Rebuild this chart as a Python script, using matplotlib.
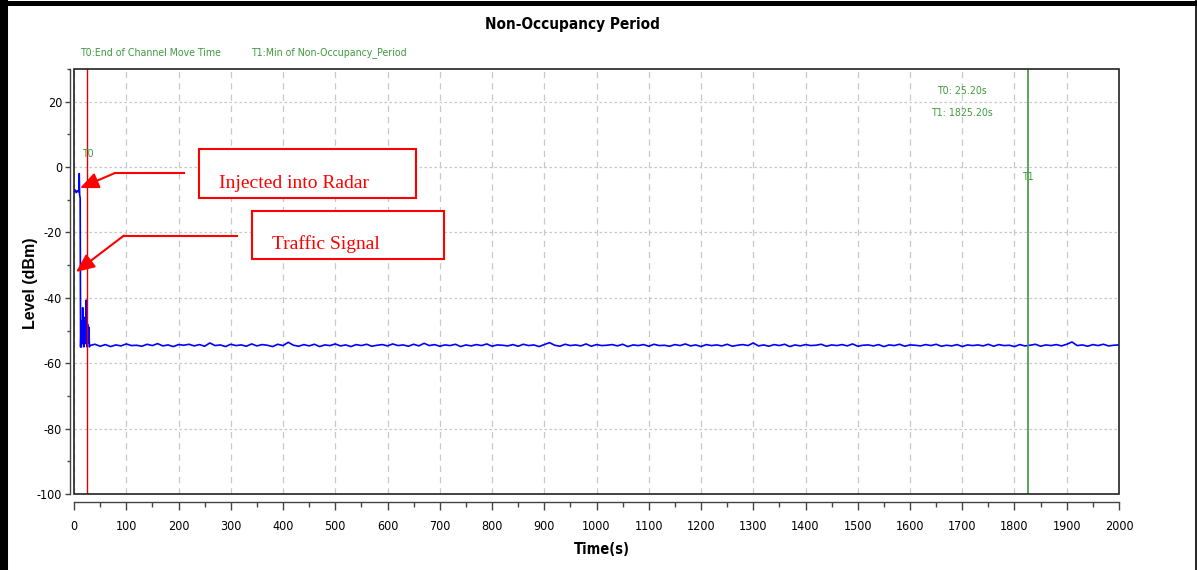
import numpy as np
import matplotlib
matplotlib.use("Agg")
import matplotlib.pyplot as plt
from matplotlib import font_manager as fm
from matplotlib.patches import Rectangle, FancyArrowPatch
from matplotlib.lines import Line2D
from matplotlib.ticker import MultipleLocator

# ---------------- data ----------------
t_start = [0, 2, 4, 6, 8, 9.5, 10, 10.8, 11.8, 12.6, 13.3, 14, 15, 16, 16.6, 17.2,
           18, 19, 20, 21, 22, 23, 23.5, 24, 25, 26, 27, 28, 28.7, 29.5]
lvl_start = [-7.5, -7.0, -7.8, -7.2, -7.6, -7.0, -2.0, -8.5, -9.5, -55.0, -50.0, -55.0,
             -47.0, -53.0, -43.0, -54.0, -48.0, -55.0, -46.0, -52.0, -49.0, -54.0,
             -40.7, -51.0, -55.0, -48.0, -54.0, -52.0, -49.0, -55.0]

t_steady = np.arange(30, 2001, 10)
lvl_steady = [
    -54.6, -54.2, -54.8, -54.3, -54.9, -54.4, -54.7, -54.1, -54.6, -54.5,
    -54.8, -54.2, -54.6, -54.0, -54.7, -54.4, -54.9, -54.3, -54.5, -54.2,
    -54.7, -54.3, -54.8, -53.8, -54.6, -54.4, -54.9, -54.2, -54.6, -54.4,
    -54.8, -54.1, -54.7, -54.3, -54.5, -54.9, -54.2, -54.6, -53.6, -54.5,
    -54.8, -54.3, -54.7, -54.2, -54.9, -54.4, -54.6, -54.1, -54.7, -54.4,
    -54.9, -54.3, -54.6, -54.2, -54.8, -54.5, -54.3, -54.7, -54.1, -54.6,
    -54.4, -54.8, -54.2, -54.7, -53.9, -54.6, -54.3, -54.8, -54.4, -54.6,
    -54.2, -54.9, -54.4, -54.7, -54.3, -54.6, -54.1, -54.8, -54.4, -54.5,
    -54.7, -54.3, -54.8, -54.2, -54.6, -54.4, -54.9, -54.3, -53.7, -54.5,
    -54.8, -54.2, -54.6, -54.4, -54.7, -54.1, -54.8, -54.3, -54.6, -54.5,
    -54.3, -54.7, -54.2, -54.9, -54.4, -54.6, -54.3, -54.8, -54.2, -54.6,
    -54.5, -54.8, -54.3, -54.6, -54.1, -54.7, -54.4, -54.9, -54.3, -54.6,
    -54.4, -54.7, -54.2, -54.8, -54.5, -54.3, -54.6, -53.8, -54.7, -54.4,
    -54.8, -54.3, -54.6, -54.2, -54.9, -54.4, -54.7, -54.3, -54.6, -54.5,
    -54.2, -54.8, -54.4, -54.6, -54.3, -54.7, -54.1, -54.8, -54.5, -54.4,
    -54.7, -54.3, -54.9, -54.4, -54.6, -54.2, -54.8, -54.4, -54.5, -54.7,
    -54.3, -54.6, -54.2, -54.8, -54.5, -54.7, -54.3, -54.9, -54.4, -54.6,
    -54.4, -54.7, -54.2, -54.8, -54.3, -54.6, -54.5, -54.9, -54.3, -54.7,
    -54.5, -54.2, -54.8, -54.4, -54.6, -54.3, -54.7, -54.2, -53.5, -54.6,
    -54.4, -54.8, -54.3, -54.6, -54.2, -54.7, -54.5, -54.4,
]

T0 = 25.20
T1 = 1825.20
xticks = list(range(0, 2001, 100))
yticks = list(range(-100, 21, 20))

# ---------------- fonts ----------------
fonts = fm.fontManager.ttflist
names = {f.name for f in fonts}
has_cond = any(f.name == 'DejaVu Sans' and f.stretch in ('condensed', 'semi-condensed', 600, 500)
               and 'Condensed' in f.fname for f in fonts)
SANS = 'Liberation Sans' if 'Liberation Sans' in names else 'DejaVu Sans'
SERIF = 'Liberation Serif' if 'Liberation Serif' in names else 'DejaVu Serif'
if has_cond:
    NK = dict(family=['DejaVu Sans'], fontstretch='condensed')
    NSCALE = 0.95
else:
    NK = dict(family=[SANS, 'DejaVu Sans'])
    NSCALE = 1.0
plt.rcParams['font.family'] = NK['family']
if has_cond:
    plt.rcParams['font.stretch'] = 'condensed'
plt.rcParams['axes.unicode_minus'] = False

W, H = 1197, 570
def fx(px):
    return px / W
def fy(py):
    return 1 - py / H

fig = plt.figure(figsize=(W / 100, H / 100), dpi=100)
ax = fig.add_axes([fx(74), fy(494), (1119 - 74) / W, (494 - 69) / H])

t_all = list(t_start) + list(t_steady)
l_all = list(lvl_start) + list(lvl_steady)
ax.plot(t_all, l_all, color='#0000ff', lw=1.2, zorder=3)

ax.axvline(T0, color='#e00000', lw=1.0, zorder=4)
ax.axvline(T1, color='#3a9a3a', lw=1.2, zorder=4)

ax.set_xlim(0, 2000)
ax.set_ylim(-100, 30)
ax.set_xticks(xticks)
ax.set_yticks(yticks)
ax.xaxis.set_minor_locator(MultipleLocator(50))
ax.yaxis.set_minor_locator(MultipleLocator(10))

ax.xaxis.grid(True, which='major', color='#c8c8c8', ls=(0, (5, 4)), lw=0.9)
ax.yaxis.grid(True, which='major', color='#c8c8c8', ls=(0, (2, 2)), lw=0.9)
ax.set_axisbelow(True)

for s in ['top', 'right']:
    ax.spines[s].set_visible(False)
ax.spines['left'].set_position(('outward', 3))
ax.spines['bottom'].set_position(('outward', 6))
for s in ['left', 'bottom']:
    ax.spines[s].set_color('#444444')
    ax.spines[s].set_linewidth(1.0)

ax.tick_params(axis='x', which='major', length=5.5, width=1, color='#444444',
               labelsize=9.5 * NSCALE, pad=7)
ax.tick_params(axis='x', which='minor', length=3.5, width=1, color='#444444')
ax.tick_params(axis='y', which='major', length=3.6, width=1, color='#444444',
               labelsize=9.5 * NSCALE, pad=2)
ax.tick_params(axis='y', which='minor', length=2, width=1, color='#444444')

# plot frame
ax.add_patch(Rectangle((0, 0), 1, 1, transform=ax.transAxes, fill=False,
                       ec='#222222', lw=1.2, clip_on=False, zorder=6))

# axis labels and title
fig.text(fx(572), fy(25), 'Non-Occupancy Period', ha='center', va='center',
         fontsize=11, fontweight='bold', **NK)
fig.text(fx(602), fy(549), 'Time(s)', ha='center', va='center',
         fontsize=10.5, fontweight='bold', **NK)
fig.text(fx(30), fy(283), 'Level (dBm)', ha='center', va='center', rotation=90,
         fontsize=11.5, fontweight='bold', family=[SANS, 'DejaVu Sans'],
         fontstretch='normal')

GREEN = '#3f9b3f'
gs = 8 * NSCALE
fig.text(fx(80), fy(53), 'T0:End of Channel Move Time', ha='left', va='center',
         fontsize=gs, color=GREEN, **NK)
fig.text(fx(251), fy(53), 'T1:Min of Non-Occupancy_Period', ha='left', va='center',
         fontsize=gs, color=GREEN, **NK)
fig.text(fx(962), fy(91), 'T0: 25.20s', ha='center', va='center', fontsize=gs, color=GREEN, **NK)
fig.text(fx(962), fy(113), 'T1: 1825.20s', ha='center', va='center', fontsize=gs, color=GREEN, **NK)
fig.text(fx(88), fy(154), 'T0', ha='center', va='center', fontsize=gs, color=GREEN, **NK)
fig.text(fx(1028), fy(177), 'T1', ha='center', va='center', fontsize=gs, color=GREEN, **NK)

# annotation boxes
RED = '#ff0000'
for (x0, y0, x1, y1) in [(199, 149, 416, 198), (252, 211, 444, 259)]:
    fig.add_artist(Rectangle((fx(x0), fy(y1)), (x1 - x0) / W, (y1 - y0) / H,
                             transform=fig.transFigure, fc='white', ec=RED,
                             lw=1.5, zorder=10))
fig.text(fx(219), fy(183), 'Injected into Radar', ha='left', va='center',
         fontsize=14, color=RED, family=[SERIF], fontstretch='normal', zorder=11)
fig.text(fx(272), fy(244), 'Traffic Signal', ha='left', va='center',
         fontsize=14, color=RED, family=[SERIF], fontstretch='normal', zorder=11)

# arrows
for (xa, ya, xb, yb, xt, yt) in [(184, 173, 115, 173, 80, 188),
                                 (237, 235.5, 124, 235.5, 76, 272)]:
    fig.add_artist(Line2D([fx(xa), fx(xb)], [fy(ya), fy(yb)], color=RED, lw=1.5,
                          transform=fig.transFigure, zorder=10))
    fig.add_artist(FancyArrowPatch((fx(xb), fy(yb)), (fx(xt), fy(yt)),
                                   transform=fig.transFigure,
                                   arrowstyle='-|>,head_length=0.8,head_width=0.35',
                                   mutation_scale=14, color=RED, lw=1.5,
                                   shrinkA=0, shrinkB=0, zorder=10))

# outer border of the screenshot
fig.add_artist(Line2D([fx(4), fx(4)], [0, 1], color='black', lw=5.8,
                      transform=fig.transFigure, zorder=20))
fig.add_artist(Line2D([0, 1], [fy(2.5), fy(2.5)], color='black', lw=3.6,
                      transform=fig.transFigure, zorder=20))
fig.add_artist(Line2D([fx(1195.5), fx(1195.5)], [0, 1], color='black', lw=1.2,
                      transform=fig.transFigure, zorder=20))

fig.savefig('out.png', dpi=100)
